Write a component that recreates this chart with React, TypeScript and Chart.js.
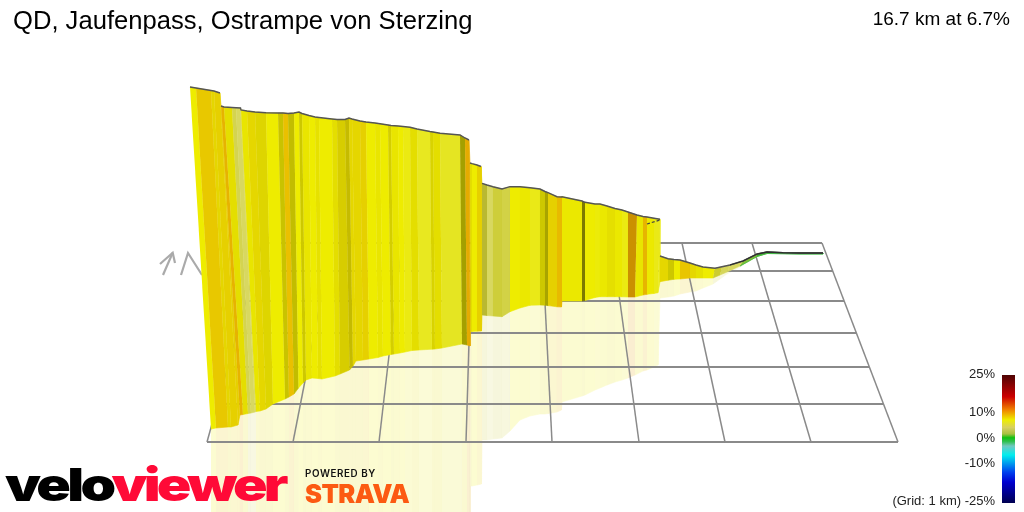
import React, { useEffect, useRef } from 'react';
import { Chart, registerables } from 'chart.js';

Chart.register(...registerables);

// stations along the climb (ridge and foot of the wall)
const topX = [190, 196, 211, 214, 220, 221, 224, 232, 236, 240.5, 241, 247, 255, 266, 278, 283, 288, 294, 299, 302, 309, 315, 319, 332, 337, 345, 349, 352, 360, 366, 375, 380, 388, 391, 398, 403, 410, 417, 430, 433, 440, 460, 465, 469, 470, 472, 477, 481, 482, 487, 493, 502, 510, 520, 530, 540, 545, 548, 557, 561.5, 562, 582, 585, 595, 600, 607, 615, 622, 628, 637, 643, 647, 654, 660, 660, 668, 674, 680, 690, 696, 703, 715, 722, 730, 743, 757, 767, 783, 800, 823];
const topY = [87, 88, 90.5, 91, 93, 106, 107, 107.5, 107.7, 108, 110, 111, 112, 112.7, 113, 113, 113.5, 113, 112, 113.5, 115.5, 117, 117.5, 119, 119.5, 119.5, 118, 119, 121, 122, 123, 123.7, 125, 125.5, 126, 126.5, 127.3, 129, 131.5, 132, 133.3, 135, 138, 140, 163, 163.7, 165, 166.5, 183.3, 185, 186.7, 189, 186.7, 186.7, 187.7, 189, 191.5, 192.7, 196.7, 197, 196.7, 201, 202.3, 204, 204, 206, 208.5, 210, 212, 215, 216.5, 217, 218.3, 219.3, 256, 258.7, 259.5, 260, 263, 265, 267, 268.3, 266.7, 265, 261, 254, 252, 252.7, 253, 253];
const baseX = [211, 216, 228, 231, 238, 240, 243, 248, 251, 255, 256, 260, 266, 273, 285, 289, 294, 298.5, 303, 306, 312, 318, 322, 335, 340, 349.5, 353, 356, 363, 369, 378, 383, 391, 394, 400, 405, 412, 419, 432, 435, 442, 462, 467, 470, 470.5, 472, 477, 481.5, 482, 487, 493, 502, 510, 520, 530, 540, 545, 548, 557, 561.5, 562, 582, 585, 595, 600, 607, 615, 622, 628, 635, 643, 647, 654, 658, 660, 668, 674, 680, 690, 696, 703, 713, 720, 727, 740, 757, 767, 783, 800, 823];
const baseY = [429, 428, 427, 427, 425, 415, 414.5, 413.5, 413, 412, 411.5, 411, 409, 404, 399, 397, 394, 388, 383, 380, 378, 378.5, 379, 376, 374, 370, 366, 361, 360, 359, 357.5, 356, 354.5, 354, 353, 352, 350.5, 350, 349.2, 349, 348, 344, 345, 346, 331.7, 331.5, 331.2, 331, 315, 315.5, 316, 316.7, 311.7, 308, 305.3, 305, 305.2, 305.6, 306.8, 307, 301, 301, 300.5, 297.5, 296.7, 296.7, 296.7, 296.8, 297, 297, 295, 294.3, 293.4, 292.7, 281.7, 280.2, 279.3, 279, 278, 278, 278, 278, 275, 272, 266, 256.5, 253.5, 253.7, 254, 254];
// lower edge of the mirror image below the wall
const mirrorY = [560, 560, 560, 560, 560, 560, 560, 560, 560, 560, 560, 560, 560, 560, 560, 560, 560, 560, 560, 560, 560, 560, 560, 560, 560, 560, 560, 560, 560, 560, 560, 560, 560, 560, 560, 560, 560, 560, 560, 560, 560, 560, 560, 560, 486, 486, 485, 484, 440, 440, 439, 438, 431, 420, 416, 414, 414, 413.5, 412, 410, 402, 396, 395, 390, 388, 385, 382, 380, 378, 375, 371, 370, 367, 365, 298, 297, 296, 294, 292, 291, 288, 284, 279, 274, 267, 256.5, 253.5, 253.7, 254, 254];
// gradient in % of each stripe, one per gap between stations
const stripeGrade = [6, 8.5, 7.6, 8, 8, 9.6, 7, 3.5, 3, 3, 6.5, 7.5, 7.2, 6, 7, 9, 7, 6, 7, 6.5, 6, 6.8, 6, 7, 7.3, 7.3, 7.5, 7.6, 8, 6, 6.5, 6, 7, 6.5, 6, 5.6, 7, 5.3, 7, 7, 5.2, 7, 10, 10, 7, 6, 8, 8, 4.3, 3, 4.2, 3.8, 6, 6.3, 5.5, 7, 7, 8, 9.3, 9.3, 6.3, 7, 6, 5.8, 6.3, 6.9, 6.3, 5.6, 10.5, 6.5, 9.5, 6.2, 5.5, 5.5, 7.5, 7, 6, 8.7, 7.5, 6.8, 6, 4.5, 3.2, 3, 1.5, 0.5, 0, 0, 0];
// light falling on each stripe, 1 is full light
const stripeLight = [1, 1, 1, 1, 1, 1, 1, 1, 1, 1, 1, 1, 0.97, 1, 0.88, 1, 0.85, 1, 0.9, 1, 1, 1, 1, 1, 0.94, 0.86, 1, 1, 1, 1, 1, 1, 0.93, 1, 1, 1, 1, 1, 0.95, 1, 1, 0.72, 1, 1, 1, 1, 1, 1, 0.9, 1, 1, 1, 1, 1, 1, 0.9, 0.74, 1, 1, 1, 1, 0.55, 1, 1, 1, 1, 1, 1, 0.9, 1, 1, 1, 1, 1, 1, 0.9, 1, 1, 1, 1, 1, 1, 1, 1, 1, 1, 1, 1, 1];

// floor grid, one line per km
const gridRowY = [442, 404, 367, 333, 301, 271, 243];
const gridRowStartX = [207, 217.5, 228, 237, 246, 254, 262];
const gridRowEndX = [898, 883.5, 869, 856, 844, 833, 822];
const gridColFrontX = [207, 293, 379, 466, 552, 639, 725, 811, 898];
const gridColBackX = [262, 332, 402, 472, 542, 612, 682, 752, 822];

// the small arrows left of the wall and the short dashed trace at the top of the last wall
const arrowOneX = [160, 172.7, 175];
const arrowOneY = [264, 252.7, 263];
const arrowShaftX = [163, 172.7];
const arrowShaftY = [275, 252.7];
const arrowTwoX = [181, 188, 202];
const arrowTwoY = [275, 253, 275];
const traceX = [647, 660];
const traceY = [224, 220];

const legendLabels = ['25%', '10%', '0%', '-10%', '(Grid: 1 km) -25%'];
const legendLabelY = [374, 412, 438, 463, 501];

const gradeStops: Array<[number, number[]]> = [
    [0, [30, 170, 40]],
    [1.5, [130, 190, 50]],
    [3, [216, 216, 96]],
    [4.5, [204, 204, 48]],
    [5.3, [232, 232, 32]],
    [6, [238, 236, 0]],
    [7, [228, 222, 0]],
    [8, [230, 208, 0]],
    [9, [234, 192, 0]],
    [10.5, [226, 160, 0]],
];

function gradeRgb(grade: number, light: number) {
    let i = 0;
    while (i < gradeStops.length - 2 && grade > gradeStops[i + 1][0]) i++;
    const [g0, c0] = gradeStops[i];
    const [g1, c1] = gradeStops[i + 1];
    const t = (grade - g0) / (g1 - g0);
    return c0.map((c, k) => Math.round((c + (c1[k] - c) * t) * light));
}

const rgb = (c: number[]) => `rgb(${c[0]},${c[1]},${c[2]})`;
const pale = (c: number[]) => c.map(v => Math.round(255 - (255 - v) * 0.18));

const polyline = (xs: number[], ys: number[], color: string, width: number, extra = {}) => ({
    data: xs.map((x, i) => ({ x, y: ys[i] })),
    showLine: true,
    pointRadius: 0,
    borderColor: color,
    borderWidth: width,
    ...extra,
});

const polygon = (pts: Array<{ x: number; y: number }>, color: string) => ({
    data: pts,
    showLine: true,
    pointRadius: 0,
    fill: 'shape',
    backgroundColor: color,
    borderColor: color,
    borderWidth: 0.6,
});

function buildDatasets(ctx: CanvasRenderingContext2D) {
    const out: any[] = [];

    // mirror image goes under everything
    stripeGrade.forEach((grade, i) => {
        const color = rgb(pale(gradeRgb(grade, 1)));
        out.push(polygon([
            { x: baseX[i], y: baseY[i] },
            { x: baseX[i + 1], y: baseY[i + 1] },
            { x: baseX[i + 1], y: mirrorY[i + 1] },
            { x: baseX[i], y: mirrorY[i] },
        ], color));
    });

    gridRowY.forEach((y, i) => {
        out.push(polyline([gridRowStartX[i], gridRowEndX[i]], [y, y], '#8a8a8a', 1.8));
    });
    gridColFrontX.forEach((x, i) => {
        out.push(polyline([x, gridColBackX[i]], [gridRowY[0], gridRowY[6]], '#8a8a8a', 1.5));
    });

    out.push(polyline(arrowOneX, arrowOneY, '#aaaaaa', 2.2));
    out.push(polyline(arrowShaftX, arrowShaftY, '#aaaaaa', 2.2));
    out.push(polyline(arrowTwoX, arrowTwoY, '#aaaaaa', 2.2));

    // the wall itself, one quad per stripe
    stripeGrade.forEach((grade, i) => {
        const color = rgb(gradeRgb(grade, stripeLight[i]));
        out.push(polygon([
            { x: topX[i], y: topY[i] },
            { x: topX[i + 1], y: topY[i + 1] },
            { x: baseX[i + 1], y: baseY[i + 1] },
            { x: baseX[i], y: baseY[i] },
        ], color));
    });

    out.push(polyline(baseX.slice(84), baseY.slice(84), '#44bb44', 0.8));
    out.push(polyline(topX, topY, '#555555', 1.4, {
        segment: {
            borderColor: (c: any) => (Math.abs(c.p0.parsed.y - c.p1.parsed.y) > 8 ? 'transparent' : undefined),
        },
    }));
    // flat end of the climb reads almost black
    out.push(polyline(topX.slice(83), topY.slice(83), '#2e2e2e', 1.3));
    out.push(polyline(traceX, traceY, '#444444', 1.2, { borderDash: [3, 2] }));

    // colour key
    const bar = ctx.createLinearGradient(0, 375, 0, 503);
    bar.addColorStop(0, '#4e0404');
    bar.addColorStop(0.17, '#cc0000');
    bar.addColorStop(0.27, '#f08000');
    bar.addColorStop(0.35, '#eeee00');
    bar.addColorStop(0.41, '#d8d060');
    bar.addColorStop(0.46, '#a8c040');
    bar.addColorStop(0.49, '#10c010');
    bar.addColorStop(0.52, '#30c050');
    bar.addColorStop(0.555, '#70c8c0');
    bar.addColorStop(0.625, '#00eeee');
    bar.addColorStop(0.76, '#0040ee');
    bar.addColorStop(0.836, '#0000d0');
    bar.addColorStop(1, '#000050');
    out.push(polyline([1008.5, 1008.5], [375, 503], bar as any, 13));

    // chart.js paints the first dataset last
    return out.reverse();
}

const Logo: React.FC = () => (
    <>
        <div style={{ position: 'absolute', left: 5, top: 452, fontFamily: 'Inter', fontWeight: 900, fontSize: 46, letterSpacing: -3, lineHeight: '64px', whiteSpace: 'nowrap', transform: 'scaleX(1.24)', transformOrigin: 'left center' }}>
            <span style={{ color: '#000' }}>velo</span>
            <span style={{ color: '#ff0a37' }}>viewer</span>
        </div>
        <div style={{ position: 'absolute', left: 305, top: 467, fontFamily: 'Inter', fontWeight: 600, fontSize: 9.8, letterSpacing: 0.6, lineHeight: '13px', color: '#111', whiteSpace: 'nowrap' }}>
            POWERED BY
        </div>
        <div style={{ position: 'absolute', left: 305, top: 477, fontFamily: 'Inter', fontWeight: 900, fontSize: 25.5, letterSpacing: -0.6, lineHeight: '33px', color: '#fc5a12', whiteSpace: 'nowrap' }}>
            STRAVA
        </div>
    </>
);

const App: React.FC = () => {
    const chartRef = useRef<HTMLCanvasElement | null>(null);

    useEffect(() => {
        const ctx = chartRef.current?.getContext('2d');
        if (!ctx) return;
        const chart = new Chart(ctx, {
            type: 'scatter',
            data: { datasets: buildDatasets(ctx) },
            options: {
                animation: false,
                responsive: false,
                layout: { padding: 0 },
                elements: { line: { tension: 0, borderCapStyle: 'butt' } },
                scales: {
                    x: { type: 'linear', min: 0, max: 1024, display: false },
                    y: { type: 'linear', min: 0, max: 512, reverse: true, display: false },
                },
                plugins: { legend: { display: false }, tooltip: { enabled: false } },
            },
        });
        return () => {
            chart.destroy();
        };
    }, []);

    return (
        <div style={{ position: 'absolute', left: 0, top: 0, width: 1024, height: 512, overflow: 'hidden', background: '#fff', fontFamily: '"Liberation Sans", Arial, sans-serif' }}>
            <canvas ref={chartRef} width={1024} height={512} style={{ position: 'absolute', left: 0, top: 0 }}></canvas>
            <div style={{ position: 'absolute', left: 13, top: 5, fontSize: 25.6, lineHeight: '30px', color: '#000', whiteSpace: 'nowrap' }}>
                QD, Jaufenpass, Ostrampe von Sterzing
            </div>
            <div style={{ position: 'absolute', right: 14, top: 8, fontSize: 19, lineHeight: '22px', color: '#000', whiteSpace: 'nowrap' }}>
                16.7 km at 6.7%
            </div>
            {legendLabels.map((label, i) => (
                <div key={label} style={{ position: 'absolute', right: 29, top: legendLabelY[i] - 8, fontSize: 13, lineHeight: '16px', color: '#222', whiteSpace: 'nowrap' }}>
                    {label}
                </div>
            ))}
            <Logo />
        </div>
    );
};

export default App;
